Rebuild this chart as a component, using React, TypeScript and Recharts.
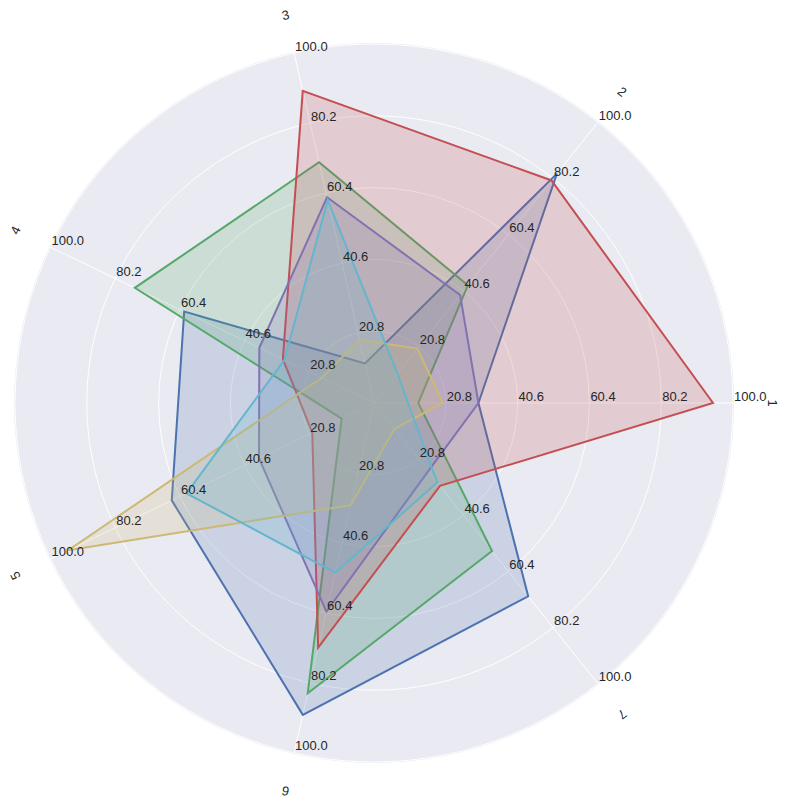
import { RadarChart, Radar, PolarGrid, PolarAngleAxis, PolarRadiusAxis } from 'recharts';

const categories = ['1', '2', '3', '4', '5', '6', '7'];

// one list per polygon, values read per spoke (1..7)
const blueValues = [29.8, 81.9, 12.2, 59.1, 62.9, 89.2, 69.2];
const greenValues = [13.2, 42.5, 69.1, 74.2, 10.9, 83.1, 53.2];
const redValues = [94.5, 79.5, 89.3, 28.9, 19.9, 70.2, 30.2];
const purpleValues = [29.8, 39.1, 59.2, 36.1, 36.2, 60.0, 25.0];
const yellowValues = [20.0, 20.2, 18.9, 17.0, 94.6, 29.9, 10.1];
const cyanValues = [10.4, 11.4, 58.4, 28.4, 58.4, 49.0, 29.0];

const radialTicks = [1, 20.8, 40.6, 60.4, 80.2, 100];

const series = [
  { key: 'blue', values: blueValues, color: '#4C72B0' },
  { key: 'green', values: greenValues, color: '#55A868' },
  { key: 'red', values: redValues, color: '#C44E52' },
  { key: 'purple', values: purpleValues, color: '#8172B2' },
  { key: 'yellow', values: yellowValues, color: '#CCB974' },
  { key: 'cyan', values: cyanValues, color: '#64B5CD' },
];

// numeric spoke index keeps the angle mapping linear: idx 0 -> 0deg, counter-clockwise
const spokeIdx = categories.map((_, i) => i);

const data = categories.map((name, i) => {
  const row: Record<string, string | number> = { name, idx: i };
  series.forEach((s) => {
    row[s.key] = s.values[i];
  });
  return row;
});

const W = 787;
const H = 807;
const CX = 374;
const CY = 403;
const R = 359;
const FONT = '"Liberation Sans", Arial, sans-serif';
const TEXT = '#262626';

const spokeAngles = categories.map((_, i) => (i * 360) / categories.length);
const rad = (deg: number) => (deg * Math.PI) / 180;

// radius axis sits on the 0deg spoke; repeat each label on every spoke
function RadialTick(props: any) {
  const { x, payload } = props;
  if (payload.value === 1) return <g />;
  const r = x - CX;
  return (
    <g>
      {spokeAngles.map((a) => (
        <text
          key={a}
          x={CX + r * Math.cos(rad(a)) + 1}
          y={CY - r * Math.sin(rad(a)) - 2.5}
          textAnchor="start"
          fontSize={13}
          fontFamily={FONT}
          fill={TEXT}
        >
          {Number(payload.value).toFixed(1)}
        </text>
      ))}
    </g>
  );
}

function AngleTick(props: any) {
  const { payload } = props;
  const a = payload.coordinate;
  const r = R + 39;
  const x = CX + r * Math.cos(rad(a));
  const y = CY - r * Math.sin(rad(a));
  return (
    <text
      x={x}
      y={y}
      textAnchor="middle"
      dominantBaseline="central"
      fontSize={13}
      fontFamily={FONT}
      fill={TEXT}
      transform={`rotate(${90 - a}, ${x}, ${y})`}
    >
      {categories[payload.value]}
    </text>
  );
}

export default function App() {
  return (
    <div style={{ position: 'absolute', left: 0, top: 0, width: W, height: H, background: '#fff' }}>
      <div
        style={{
          position: 'absolute',
          left: CX - R - 1,
          top: CY - R - 1,
          width: 2 * R + 2,
          height: 2 * R + 2,
          borderRadius: '50%',
          background: '#EAEAF2',
        }}
      />
      <div style={{ position: 'absolute', left: 0, top: 0 }}>
        <RadarChart
          width={W}
          height={H}
          cx={CX}
          cy={CY}
          outerRadius={R}
          startAngle={0}
          endAngle={360}
          data={data}
          margin={{ top: 0, right: 0, bottom: 0, left: 0 }}
        >
          <PolarGrid gridType="circle" stroke="#ffffff" strokeWidth={1} />
          <PolarAngleAxis
            dataKey="idx"
            type="number"
            domain={[0, categories.length]}
            ticks={spokeIdx}
            tick={AngleTick}
            tickLine={false}
            axisLine={false}
          />
          <PolarRadiusAxis
            angle={0}
            domain={[1, 100]}
            ticks={radialTicks}
            allowDataOverflow
            axisLine={false}
            tickLine={false}
            tick={RadialTick}
          />
          {series.map((s) => (
            <Radar
              key={s.key}
              dataKey={s.key}
              stroke={s.color}
              strokeWidth={2}
              fill={s.color}
              fillOpacity={0.2}
              dot={false}
              isAnimationActive={false}
            />
          ))}
        </RadarChart>
      </div>
    </div>
  );
}
